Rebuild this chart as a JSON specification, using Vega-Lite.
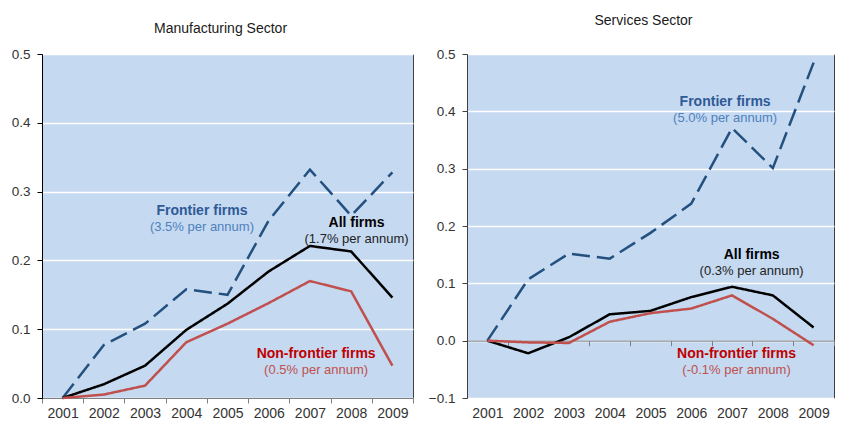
{
  "$schema": "https://vega.github.io/schema/vega-lite/v6.json",
  "padding": {"left": 10, "top": 13, "right": 5, "bottom": 5},
  "background": "white",
  "bounds": "flush",
  "spacing": 54,
  "config": {
    "font": "Liberation Sans",
    "view": {"fill": "#C5D9F1", "stroke": "#404040", "strokeWidth": 1},
    "axis": {"labelFont": "Liberation Sans", "labelColor": "#333333", "title": null}
  },
  "datasets": {
    "lines": [
      {"sector": "Manufacturing", "series": "Frontier firms", "year": 2001, "value": 0},
      {"sector": "Manufacturing", "series": "Frontier firms", "year": 2002, "value": 0.077},
      {"sector": "Manufacturing", "series": "Frontier firms", "year": 2003, "value": 0.108},
      {"sector": "Manufacturing", "series": "Frontier firms", "year": 2004, "value": 0.158},
      {"sector": "Manufacturing", "series": "Frontier firms", "year": 2005, "value": 0.15},
      {"sector": "Manufacturing", "series": "Frontier firms", "year": 2006, "value": 0.258},
      {"sector": "Manufacturing", "series": "Frontier firms", "year": 2007, "value": 0.332},
      {"sector": "Manufacturing", "series": "Frontier firms", "year": 2008, "value": 0.265},
      {"sector": "Manufacturing", "series": "Frontier firms", "year": 2009, "value": 0.328},
      {"sector": "Manufacturing", "series": "All firms", "year": 2001, "value": 0},
      {"sector": "Manufacturing", "series": "All firms", "year": 2002, "value": 0.02},
      {"sector": "Manufacturing", "series": "All firms", "year": 2003, "value": 0.047},
      {"sector": "Manufacturing", "series": "All firms", "year": 2004, "value": 0.099},
      {"sector": "Manufacturing", "series": "All firms", "year": 2005, "value": 0.137},
      {"sector": "Manufacturing", "series": "All firms", "year": 2006, "value": 0.184},
      {"sector": "Manufacturing", "series": "All firms", "year": 2007, "value": 0.221},
      {"sector": "Manufacturing", "series": "All firms", "year": 2008, "value": 0.213},
      {"sector": "Manufacturing", "series": "All firms", "year": 2009, "value": 0.146},
      {"sector": "Manufacturing", "series": "Non-frontier firms", "year": 2001, "value": 0},
      {"sector": "Manufacturing", "series": "Non-frontier firms", "year": 2002, "value": 0.005},
      {"sector": "Manufacturing", "series": "Non-frontier firms", "year": 2003, "value": 0.018},
      {"sector": "Manufacturing", "series": "Non-frontier firms", "year": 2004, "value": 0.081},
      {"sector": "Manufacturing", "series": "Non-frontier firms", "year": 2005, "value": 0.108},
      {"sector": "Manufacturing", "series": "Non-frontier firms", "year": 2006, "value": 0.138},
      {"sector": "Manufacturing", "series": "Non-frontier firms", "year": 2007, "value": 0.17},
      {"sector": "Manufacturing", "series": "Non-frontier firms", "year": 2008, "value": 0.155},
      {"sector": "Manufacturing", "series": "Non-frontier firms", "year": 2009, "value": 0.047},
      {"sector": "Services", "series": "Frontier firms", "year": 2001, "value": 0},
      {"sector": "Services", "series": "Frontier firms", "year": 2002, "value": 0.107},
      {"sector": "Services", "series": "Frontier firms", "year": 2003, "value": 0.152},
      {"sector": "Services", "series": "Frontier firms", "year": 2004, "value": 0.143},
      {"sector": "Services", "series": "Frontier firms", "year": 2005, "value": 0.188},
      {"sector": "Services", "series": "Frontier firms", "year": 2006, "value": 0.239},
      {"sector": "Services", "series": "Frontier firms", "year": 2007, "value": 0.371},
      {"sector": "Services", "series": "Frontier firms", "year": 2008, "value": 0.301},
      {"sector": "Services", "series": "Frontier firms", "year": 2009, "value": 0.485},
      {"sector": "Services", "series": "All firms", "year": 2001, "value": 0},
      {"sector": "Services", "series": "All firms", "year": 2002, "value": -0.022},
      {"sector": "Services", "series": "All firms", "year": 2003, "value": 0.006},
      {"sector": "Services", "series": "All firms", "year": 2004, "value": 0.046},
      {"sector": "Services", "series": "All firms", "year": 2005, "value": 0.052},
      {"sector": "Services", "series": "All firms", "year": 2006, "value": 0.076},
      {"sector": "Services", "series": "All firms", "year": 2007, "value": 0.094},
      {"sector": "Services", "series": "All firms", "year": 2008, "value": 0.079},
      {"sector": "Services", "series": "All firms", "year": 2009, "value": 0.023},
      {"sector": "Services", "series": "Non-frontier firms", "year": 2001, "value": 0},
      {"sector": "Services", "series": "Non-frontier firms", "year": 2002, "value": -0.003},
      {"sector": "Services", "series": "Non-frontier firms", "year": 2003, "value": -0.004},
      {"sector": "Services", "series": "Non-frontier firms", "year": 2004, "value": 0.033},
      {"sector": "Services", "series": "Non-frontier firms", "year": 2005, "value": 0.048},
      {"sector": "Services", "series": "Non-frontier firms", "year": 2006, "value": 0.056},
      {"sector": "Services", "series": "Non-frontier firms", "year": 2007, "value": 0.079},
      {"sector": "Services", "series": "Non-frontier firms", "year": 2008, "value": 0.038},
      {"sector": "Services", "series": "Non-frontier firms", "year": 2009, "value": -0.008}
    ],
    "labels": [
      {"sector": "Manufacturing", "series": "Frontier firms", "title": "Frontier firms", "sub": "(3.5% per annum)", "year": 2004.38, "value": 0.272},
      {"sector": "Manufacturing", "series": "All firms", "title": "All firms", "sub": "(1.7% per annum)", "year": 2008.13, "value": 0.255},
      {"sector": "Manufacturing", "series": "Non-frontier firms", "title": "Non-frontier firms", "sub": "(0.5% per annum)", "year": 2007.15, "value": 0.064},
      {"sector": "Services", "series": "Frontier firms", "title": "Frontier firms", "sub": "(5.0% per annum)", "year": 2006.83, "value": 0.416},
      {"sector": "Services", "series": "All firms", "title": "All firms", "sub": "(0.3% per annum)", "year": 2007.48, "value": 0.149},
      {"sector": "Services", "series": "Non-frontier firms", "title": "Non-frontier firms", "sub": "(-0.1% per annum)", "year": 2007.11, "value": -0.024}
    ]
  },
  "hconcat": [
    {
      "width": 371,
      "height": 344,
      "title": {"text": "Manufacturing Sector", "fontSize": 14, "fontWeight": "normal", "offset": 11, "dx": -7, "color": "#1a1a1a", "font": "Liberation Sans"},
      "resolve": {"axis": {"x": "independent"}, "scale": {"color": "independent"}},
      "layer": [
        {
          "data": {"name": "lines"},
          "transform": [{"filter": "datum.sector === 'Manufacturing'"}],
          "mark": {"type": "line"},
          "encoding": {
            "x": {"field": "year", "type": "quantitative", "scale": {"domain": [2000.5, 2009.5], "nice": false, "zero": false},
                  "axis": {"orient": "bottom", "values": [2000.5, 2001.5, 2002.5, 2003.5, 2004.5, 2005.5, 2006.5, 2007.5, 2008.5, 2009.5], "labels": false, "ticks": true, "tickSize": 5, "tickColor": "#7f7f7f", "domainColor": "#7f7f7f", "grid": false, "title": null}},
            "y": {"field": "value", "type": "quantitative", "scale": {"domain": [0, 0.5], "nice": false},
                  "axis": {"values": [0, 0.1, 0.2, 0.3, 0.4, 0.5], "format": ".1f", "grid": true, "gridColor": "#ffffff", "gridWidth": 1.5, "gridOpacity": 1, "domainColor": "#000000", "tickColor": "#000000", "tickSize": 5, "labelPadding": 7, "labelFontSize": 13.5, "title": null}},
            "color": {"field": "series", "type": "nominal", "scale": {"domain": ["Frontier firms", "All firms", "Non-frontier firms"], "range": ["#23507F", "#000000", "#C0504D"]}, "legend": null},
            "strokeDash": {"field": "series", "type": "nominal", "scale": {"domain": ["Frontier firms", "All firms", "Non-frontier firms"], "range": [[18, 7], [1, 0], [1, 0]]}, "legend": null},
            "strokeWidth": {"field": "series", "type": "nominal", "scale": {"domain": ["Frontier firms", "All firms", "Non-frontier firms"], "range": [2.5, 2.5, 2.2]}, "legend": null}
          }
        },
        {
          "data": {"name": "labels"},
          "transform": [{"filter": "datum.sector === 'Manufacturing'"}],
          "mark": {"type": "text", "fontWeight": "bold", "fontSize": 14, "align": "center", "baseline": "middle"},
          "encoding": {
            "x": {"field": "year", "type": "quantitative", "scale": {"domain": [2000.5, 2009.5], "nice": false, "zero": false},
                  "axis": {"orient": "bottom", "values": [2001, 2002, 2003, 2004, 2005, 2006, 2007, 2008, 2009], "format": "d", "ticks": false, "domain": false, "grid": false, "labelPadding": 8, "labelFontSize": 14, "title": null}},
            "y": {"field": "value", "type": "quantitative", "scale": {"domain": [0, 0.5], "nice": false}},
            "text": {"field": "title"},
            "color": {"field": "series", "type": "nominal", "scale": {"domain": ["Frontier firms", "All firms", "Non-frontier firms"], "range": ["#2F5A96", "#000000", "#C00000"]}, "legend": null}
          }
        },
        {
          "data": {"name": "labels"},
          "transform": [{"filter": "datum.sector === 'Manufacturing'"}],
          "mark": {"type": "text", "fontSize": 13, "align": "center", "baseline": "middle", "dy": 16},
          "encoding": {
            "x": {"field": "year", "type": "quantitative", "scale": {"domain": [2000.5, 2009.5], "nice": false, "zero": false}, "axis": null},
            "y": {"field": "value", "type": "quantitative", "scale": {"domain": [0, 0.5], "nice": false}},
            "text": {"field": "sub"},
            "color": {"field": "series", "type": "nominal", "scale": {"domain": ["Frontier firms", "All firms", "Non-frontier firms"], "range": ["#4F81BD", "#222222", "#C0504D"]}, "legend": null}
          }
        }
      ]
    },
    {
      "width": 367,
      "height": 344,
      "title": {"text": "Services Sector", "fontSize": 14, "fontWeight": "normal", "offset": 19, "dx": -7, "color": "#1a1a1a", "font": "Liberation Sans"},
      "resolve": {"axis": {"x": "independent"}, "scale": {"color": "independent"}},
      "layer": [
        {
          "data": {"name": "lines"},
          "transform": [{"filter": "datum.sector === 'Services'"}],
          "mark": {"type": "line"},
          "encoding": {
            "x": {"field": "year", "type": "quantitative", "scale": {"domain": [2000.5, 2009.5], "nice": false, "zero": false},
                  "axis": {"orient": "bottom", "offset": -57.33, "values": [2000.5, 2001.5, 2002.5, 2003.5, 2004.5, 2005.5, 2006.5, 2007.5, 2008.5, 2009.5], "labels": false, "ticks": true, "tickSize": 5, "tickColor": "#7f7f7f", "domainColor": "#7f7f7f", "grid": false, "title": null}},
            "y": {"field": "value", "type": "quantitative", "scale": {"domain": [-0.1, 0.5], "nice": false},
                  "axis": {"values": [-0.1, 0, 0.1, 0.2, 0.3, 0.4, 0.5], "format": ".1f", "grid": true, "gridColor": "#ffffff", "gridWidth": 1.5, "gridOpacity": 1, "domainColor": "#404040", "tickColor": "#404040", "tickSize": 5, "labelPadding": 7, "labelFontSize": 13.5, "title": null}},
            "color": {"field": "series", "type": "nominal", "scale": {"domain": ["Frontier firms", "All firms", "Non-frontier firms"], "range": ["#23507F", "#000000", "#C0504D"]}, "legend": null},
            "strokeDash": {"field": "series", "type": "nominal", "scale": {"domain": ["Frontier firms", "All firms", "Non-frontier firms"], "range": [[18, 7], [1, 0], [1, 0]]}, "legend": null},
            "strokeWidth": {"field": "series", "type": "nominal", "scale": {"domain": ["Frontier firms", "All firms", "Non-frontier firms"], "range": [2.5, 2.5, 2.2]}, "legend": null}
          }
        },
        {
          "data": {"name": "labels"},
          "transform": [{"filter": "datum.sector === 'Services'"}],
          "mark": {"type": "text", "fontWeight": "bold", "fontSize": 14, "align": "center", "baseline": "middle"},
          "encoding": {
            "x": {"field": "year", "type": "quantitative", "scale": {"domain": [2000.5, 2009.5], "nice": false, "zero": false},
                  "axis": {"orient": "bottom", "values": [2001, 2002, 2003, 2004, 2005, 2006, 2007, 2008, 2009], "format": "d", "ticks": false, "domain": false, "grid": false, "labelPadding": 8, "labelFontSize": 14, "title": null}},
            "y": {"field": "value", "type": "quantitative", "scale": {"domain": [-0.1, 0.5], "nice": false}},
            "text": {"field": "title"},
            "color": {"field": "series", "type": "nominal", "scale": {"domain": ["Frontier firms", "All firms", "Non-frontier firms"], "range": ["#2F5A96", "#000000", "#C00000"]}, "legend": null}
          }
        },
        {
          "data": {"name": "labels"},
          "transform": [{"filter": "datum.sector === 'Services'"}],
          "mark": {"type": "text", "fontSize": 13, "align": "center", "baseline": "middle", "dy": 16},
          "encoding": {
            "x": {"field": "year", "type": "quantitative", "scale": {"domain": [2000.5, 2009.5], "nice": false, "zero": false}, "axis": null},
            "y": {"field": "value", "type": "quantitative", "scale": {"domain": [-0.1, 0.5], "nice": false}},
            "text": {"field": "sub"},
            "color": {"field": "series", "type": "nominal", "scale": {"domain": ["Frontier firms", "All firms", "Non-frontier firms"], "range": ["#4F81BD", "#222222", "#C0504D"]}, "legend": null}
          }
        }
      ]
    }
  ]
}
